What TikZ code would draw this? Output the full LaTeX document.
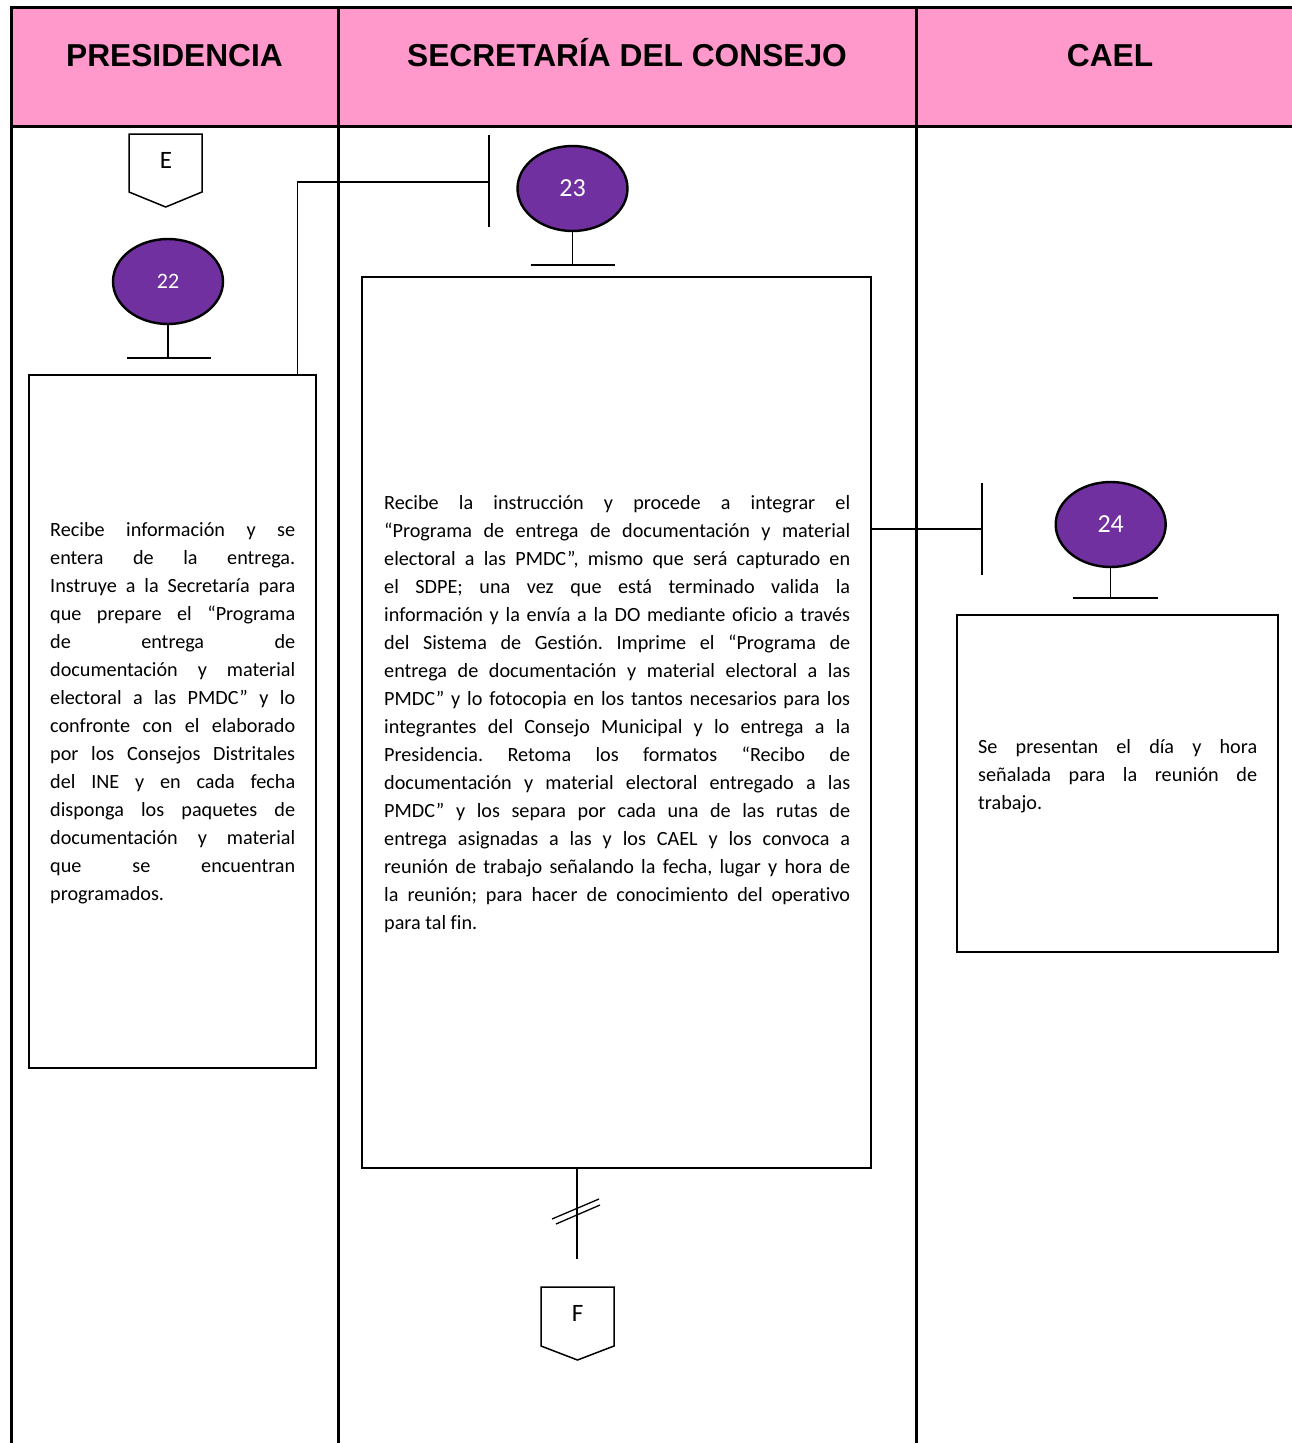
\documentclass[tikz,border=0pt]{standalone}
\usepackage{fontspec}
\setmainfont{Carlito}[Ligatures={NoCommon}]
\newfontfamily\hdrfont{Liberation Sans}
\usetikzlibrary{shapes.geometric}
\definecolor{hdrpink}{HTML}{FF99CC}
\definecolor{stepviolet}{HTML}{7030A0}
\newdimen\jw
\newcommand\jl[1]{\hbox to \jw{\spaceskip=0pt\xspaceskip=0pt\rule[-7pt]{0pt}{20pt}#1}}
\newcommand\jlast[1]{\hbox{\spaceskip=0pt\xspaceskip=0pt\rule[-7pt]{0pt}{20pt}#1}}
\begin{document}
\frenchspacing
\begin{tikzpicture}[x=1pt,y=-1pt,
  lane/.style={line width=3pt},
  hdr/.style={font=\hdrfont\bfseries\fontsize{31.7}{38}\selectfont, inner sep=0pt, anchor=base},
  actbox/.style={draw, line width=2.4pt, rectangle, inner sep=0pt},
  txt/.style={font=\fontsize{20.2}{28}\selectfont\frenchspacing, inner sep=0pt, align=left, anchor=north west},
  stepnum/.style={ellipse, draw, line width=2.4pt, fill=stepviolet, text=white, minimum width=110pt, minimum height=85pt, inner sep=0pt},
  conn/.style={line width=1.3pt},
  pageconn/.style={draw, line width=1.5pt, line join=miter}
]
\useasboundingbox (0,0) rectangle (1292,1443);
\clip (0,0) rectangle (1292,1443);
% header
\fill[hdrpink] (11,7) rectangle (1304,126);
\draw[lane] (1304,7) -- (11,7) -- (11,1460);
\draw[lane] (11,126) -- (1304,126);
\draw[lane] (338,7) -- (338,1460);
\draw[lane] (916,7) -- (916,1460);
\draw[lane] (1304,7) -- (1304,1460);
\node[hdr] (h1) at (174.5,66) {PRESIDENCIA};
\node[hdr] (h2) at (627,66) {SECRETARÍA DEL CONSEJO};
\node[hdr] (h3) at (1110,66) {CAEL};

% off-page connector E
\draw[pageconn] (129,134) -- (202,134) -- (202,192) -- (165.7,207) -- (129,192) -- cycle;
\node[font=\fontsize{25}{30}\selectfont, inner sep=0pt] (E) at (166,160) {E};

% step circles
\node[stepnum, font=\fontsize{22}{26}\selectfont] (c22) at (168,281.5) {22};
\node[stepnum, font=\fontsize{26}{30}\selectfont] (c23) at (572.5,188.5) {23};
\node[stepnum, font=\fontsize{26}{30}\selectfont] (c24) at (1110.7,524.5) {24};

\coordinate (s22) at (168,358);
\coordinate (s23) at (572.5,265);
\coordinate (s24) at (1110.7,598);
\draw[conn] (c22.south) -- (s22);
\draw[conn] ([xshift=-41pt]s22) -- ([xshift=43pt]s22);
\draw[conn] (c23.south) -- (s23);
\draw[conn] ([xshift=-42pt]s23) -- ([xshift=42pt]s23);
\draw[conn] (c24.south) -- (s24);
\draw[conn] ([xshift=-38pt]s24) -- ([xshift=47pt]s24);

% activity boxes
\node[actbox, minimum width=287pt, minimum height=693pt] (b22) at (172.5,721.5) {};
\node[actbox, minimum width=509pt, minimum height=891pt] (b23) at (616.5,722.5) {};
\node[actbox, minimum width=321pt, minimum height=337pt] (b24) at (1117.5,783.5) {};

% connectors
\coordinate (k23) at (489,182);
\draw[conn] (489,135) -- (489,227);
\draw[conn] ([xshift=-20pt]b22.north east) |- (k23);
\coordinate (k24) at (982,529);
\draw[conn] (982,483) -- (982,575);
\draw[conn] (k24 -| b23.east) -- (k24);
\coordinate (brk) at (577,1259);
\draw[conn] (brk |- b23.south) -- (brk);
\draw[conn] (552,1219) -- (599,1199);
\draw[conn] (556,1224) -- (600,1205);

% off-page connector F
\draw[pageconn] (541,1287) -- (614,1287) -- (614,1346) -- (577.5,1360) -- (541,1346) -- cycle;
\node[font=\fontsize{25}{30}\selectfont, inner sep=0pt] (F) at (577.5,1313) {F};

% texts
\node[txt, text width=245pt] (t22) at (50,522) {\jw=245pt
\jl{Recibe información y se}
\jl{entera de la entrega.}
\jl{Instruye a la Secretaría para}
\jl{que prepare el “Programa}
\jl{de entrega de}
\jl{documentación y material}
\jl{electoral a las PMDC” y lo}
\jl{confronte con el elaborado}
\jl{por los Consejos Distritales}
\jl{del INE y en cada fecha}
\jl{disponga los paquetes de}
\jl{documentación y material}
\jl{que se encuentran}
\jlast{programados.}};

\node[txt, text width=466pt] (t23) at (384,495) {\jw=466pt
\jl{Recibe la instrucción y procede a integrar el}
\jl{“Programa de entrega de documentación y material}
\jl{electoral a las PMDC”, mismo que será capturado en}
\jl{el SDPE; una vez que está terminado valida la}
\jl{información y la envía a la DO mediante oficio a través}
\jl{del Sistema de Gestión. Imprime el “Programa de}
\jl{entrega de documentación y material electoral a las}
\jl{PMDC” y lo fotocopia en los tantos necesarios para los}
\jl{integrantes del Consejo Municipal y lo entrega a la}
\jl{Presidencia. Retoma los formatos “Recibo de}
\jl{documentación y material electoral entregado a las}
\jl{PMDC” y los separa por cada una de las rutas de}
\jl{entrega asignadas a las y los CAEL y los convoca a}
\jl{reunión de trabajo señalando la fecha, lugar y hora de}
\jl{la reunión; para hacer de conocimiento del operativo}
\jlast{para tal fin.}};

\node[txt, text width=279pt] (t24) at (978,739) {\jw=279pt
\jl{Se presentan el día y hora}
\jl{señalada para la reunión de}
\jlast{trabajo.}};
\end{tikzpicture}
\end{document}
